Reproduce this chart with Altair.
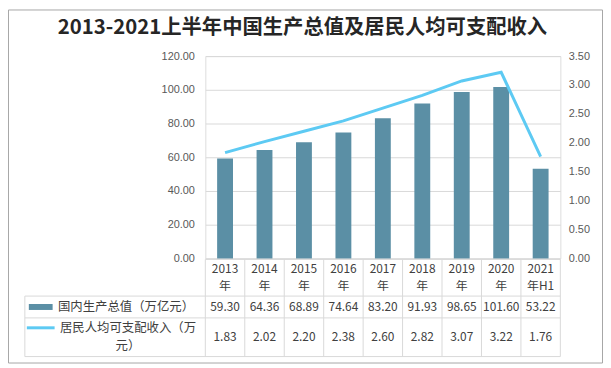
import altair as alt
import pandas as pd

# ---------------- data ----------------
categories = ["2013年", "2014年", "2015年", "2016年", "2017年",
              "2018年", "2019年", "2020年", "2021年H1"]
gdp = [59.30, 64.36, 68.89, 74.64, 83.20, 91.93, 98.65, 101.60, 53.22]
income = [1.83, 2.02, 2.20, 2.38, 2.60, 2.82, 3.07, 3.22, 1.76]
series_names = ["国内生产总值（万亿元）", "居民人均可支配收入（万\n元）"]
left_ticks = [0, 20, 40, 60, 80, 100, 120]
right_ticks = [0, 0.5, 1.0, 1.5, 2.0, 2.5, 3.0, 3.5]
title_text = "2013-2021上半年中国生产总值及居民人均可支配收入"

df = pd.DataFrame({
    "cat": categories,
    "gdp": gdp,
    "income": income,
    "header": [c[:4] + "\n" + c[4:] for c in categories],
    "gdp_t": [f"{v:.2f}" for v in gdp],
    "inc_t": [f"{v:.2f}" for v in income],
})
one = pd.DataFrame({"k": [0]})

# ---------------- style ----------------
BAR = "#5B8FA5"
LINE = "#5DCAF3"
GRID = "#D9D9D9"
TXT = "#404040"
AXT = "#595959"
CJK = "Noto Sans CJK SC"
NUM = "Liberation Sans"
W, H = 358, 204

xscale = alt.Scale(paddingInner=0, paddingOuter=0)
xenc = alt.X("cat:N", sort=categories, scale=xscale, axis=None)
base = alt.Chart(df)

bars = base.mark_bar(size=16, color=BAR).encode(
    x=xenc,
    y=alt.Y("gdp:Q", scale=alt.Scale(domain=[0, 120], nice=False),
            axis=alt.Axis(orient="left", values=left_ticks, format=".2f", title=None,
                          grid=True, gridColor=GRID, domain=False, ticks=False,
                          labelPadding=11, labelFont=NUM, labelFontSize=11,
                          labelColor=AXT)),
)

line = base.mark_line(color=LINE, strokeWidth=3).encode(
    x=xenc,
    y=alt.Y("income:Q", scale=alt.Scale(domain=[0, 3.5], nice=False),
            axis=alt.Axis(orient="right", values=right_ticks, format=".2f", title=None,
                          grid=False, domain=False, ticks=False,
                          labelPadding=8, labelFont=NUM, labelFontSize=11,
                          labelColor=AXT)),
)

# ---------------- data table ----------------
vlines = base.mark_rule(color=GRID, strokeWidth=1).encode(
    x=alt.X("cat:N", sort=categories, scale=xscale, axis=None, bandPosition=0),
    y=alt.value(205), y2=alt.value(303),
)

def hrule(y, x1, x2):
    return alt.Chart(one).mark_rule(color=GRID, strokeWidth=1).encode(
        x=alt.value(x1), x2=alt.value(x2), y=alt.value(y))

def vrule(x, y1, y2):
    return alt.Chart(one).mark_rule(color=GRID, strokeWidth=1).encode(
        x=alt.value(x), y=alt.value(y1), y2=alt.value(y2))

table_lines = [
    hrule(205, 0, W), hrule(242, -182, W), hrule(264, -182, W), hrule(303, -182, W),
    vrule(-182, 242, 303), vrule(W, 205, 303),
]

header = base.mark_text(font=CJK, fontSize=12, color=TXT, lineBreak="\n",
                        lineHeight=17, baseline="middle").encode(
    x=xenc, y=alt.value(215), text="header:N")
row1 = base.mark_text(font=CJK, fontSize=12, color=TXT, baseline="middle").encode(
    x=xenc, y=alt.value(253), text="gdp_t:N")
row2 = base.mark_text(font=CJK, fontSize=12, color=TXT, baseline="middle").encode(
    x=xenc, y=alt.value(283), text="inc_t:N")

leg1_sw = alt.Chart(one).mark_rect(color=BAR).encode(
    x=alt.value(-178), x2=alt.value(-154), y=alt.value(250), y2=alt.value(256))
leg1_tx = alt.Chart(one).mark_text(font=CJK, fontSize=12.5, color=TXT,
                                   baseline="middle", align="center").encode(
    x=alt.value(-80), y=alt.value(253), text=alt.value(series_names[0]))
leg2_sw = alt.Chart(one).mark_rule(color=LINE, strokeWidth=3).encode(
    x=alt.value(-180), x2=alt.value(-152), y=alt.value(274))
leg2_tx = alt.Chart(one).mark_text(font=CJK, fontSize=12.5, color=TXT, lineBreak="\n",
                                   lineHeight=18, baseline="middle", align="center").encode(
    x=alt.value(-78), y=alt.value(274), text=alt.value(series_names[1]))

title = alt.Chart(one).mark_text(font=CJK, fontSize=20.5, fontWeight="bold",
                                 color="#262626", baseline="middle", align="center").encode(
    x=alt.value(98), y=alt.value(-28), text=alt.value(title_text))

border = alt.Chart(one).mark_rect(fillOpacity=0, stroke="#A6A6A6", strokeWidth=1).encode(
    x=alt.value(-198.5), x2=alt.value(400.5), y=alt.value(-46.5), y2=alt.value(309.5))

chart = alt.layer(
    bars, line, vlines, *table_lines, header, row1, row2,
    leg1_sw, leg1_tx, leg2_sw, leg2_tx, title, border,
).resolve_scale(y="independent").properties(
    width=W, height=H,
    autosize=alt.AutoSizeParams(type="none"),
    padding={"left": 199, "top": 47, "right": 43, "bottom": 106},
).configure_view(stroke=None).configure(background="white")

chart.save("out.html", embed_options={"renderer": "svg", "actions": False})
